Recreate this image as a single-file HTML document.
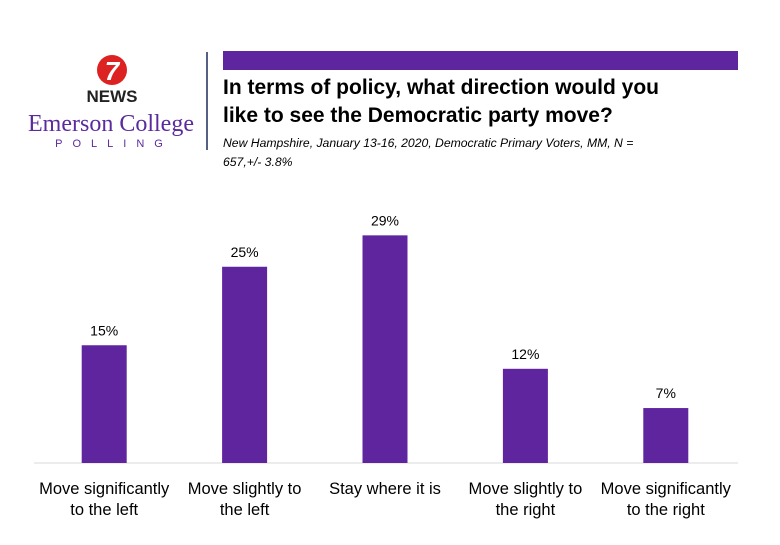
<!DOCTYPE html>
<html><head><meta charset="utf-8"><style>
body{margin:0;background:#fff;width:780px;height:540px;overflow:hidden;font-family:"Liberation Sans",sans-serif}
</style></head><body>
<svg width="780" height="540" xmlns="http://www.w3.org/2000/svg">
<g>
<circle cx="112" cy="70" r="15" fill="#d22"/>
<text x="112" y="80" text-anchor="middle" font-size="26" font-weight="bold" fill="#fff" font-style="italic">7</text>
<text x="112" y="102" text-anchor="middle" font-size="17" font-weight="bold" fill="#222">NEWS</text>
<text x="111" y="131" text-anchor="middle" font-family="Liberation Serif" font-size="24" fill="#5b2a9e">Emerson College</text>
<text x="114" y="147" text-anchor="middle" font-size="11" fill="#5b2a9e" letter-spacing="10">POLLING</text>
</g>
<line x1="207" y1="52" x2="207" y2="150" stroke="#1a2a5a" stroke-width="1.5"/>
<rect x="223" y="51" width="515" height="19" fill="#5f259f"/>
<text x="223" y="94" font-size="21" font-weight="bold" fill="#000">In terms of policy, what direction would you</text>
<text x="223" y="122" font-size="21" font-weight="bold" fill="#000">like to see the Democratic party move?</text>
<text x="223" y="147" font-size="12.2" font-style="italic" fill="#000">New Hampshire, January 13-16, 2020, Democratic Primary Voters, MM, N =</text>
<text x="223" y="166" font-size="12.2" font-style="italic" fill="#000">657,+/-  3.8%</text>
<line x1="34" y1="463" x2="738" y2="463" stroke="#d9d9d9" stroke-width="1"/>
<g id="bars"></g>
</svg>
<script>
const categories1=["Move significantly","Move slightly to","Stay where it is","Move slightly to","Move significantly"];
const categories2=["to the left","the left","","the right","to the right"];
const values=[15,25,29,12,7];
const ns="http://www.w3.org/2000/svg";
const g=document.getElementById("bars");
const x0=34,step=140.4,bw=45,base=463;
function y(v){return base-v*7.85;}
function xc(i){return x0+step*(i+0.5);}
function mk(t,a){const e=document.createElementNS(ns,t);for(const k in a)e.setAttribute(k,a[k]);g.appendChild(e);return e;}
values.forEach((v,i)=>{
  const r=mk("rect",{x:xc(i)-bw/2,y:y(v),width:bw,height:base-y(v),fill:"#5f259f"});
  
  
  const l=mk("text",{x:xc(i),y:y(v)-10,"text-anchor":"middle","font-size":"14",fill:"#000"});
  l.textContent=v+"%";
  
  
  const c1=mk("text",{x:xc(i),y:494,"text-anchor":"middle","font-size":"16.5",fill:"#000"});
  c1.textContent=categories1[i];
  
  
  if(categories2[i]){
    const c2=mk("text",{x:xc(i),y:515,"text-anchor":"middle","font-size":"16.5",fill:"#000"});
    c2.textContent=categories2[i];
    
    
  }
});
</script>
</body></html>
